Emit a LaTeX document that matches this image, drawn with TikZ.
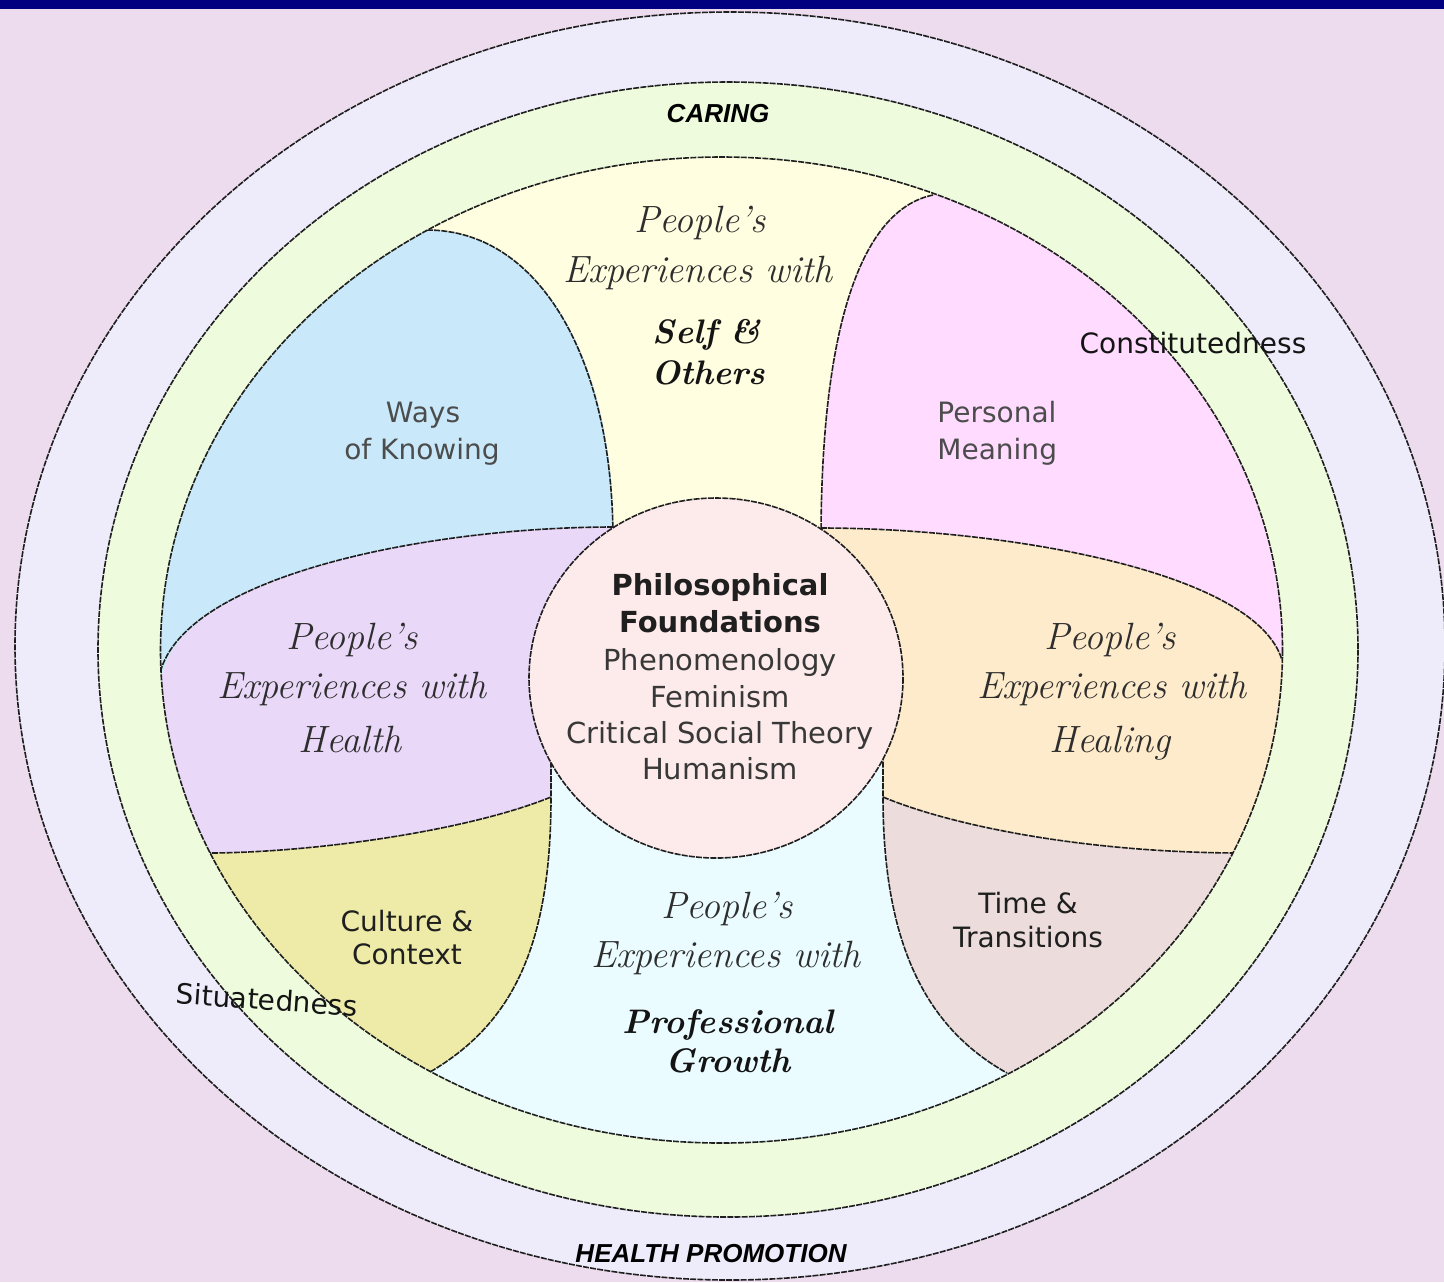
\documentclass[tikz,border=0pt]{standalone}
\usepackage{fontspec}
\newfontfamily\dvsans{DejaVu Sans}
\newfontfamily\libsans{Liberation Sans}
\definecolor{bgc}{HTML}{EDDCEE}
\definecolor{navyc}{HTML}{000080}
\definecolor{outerc}{HTML}{EEEBFB}
\definecolor{greenc}{HTML}{EEFBDD}
\definecolor{yelc}{HTML}{FFFEE0}
\definecolor{bluec}{HTML}{C9E9FB}
\definecolor{pinkc}{HTML}{FFDCFF}
\definecolor{lavc}{HTML}{EAD8F9}
\definecolor{orc}{HTML}{FDEBCB}
\definecolor{olc}{HTML}{EEEBA8}
\definecolor{timec}{HTML}{ECDCDC}
\definecolor{cyanc}{HTML}{EAFCFF}
\definecolor{circc}{HTML}{FDEBEB}
\begin{document}
\begin{tikzpicture}[x=0.5pt,y=-0.5pt,
  bd/.style={draw=black!88, line width=0.8pt, dash pattern=on 3pt off 0.6pt},
  lbl/.style={inner sep=0pt, text height=10pt, text depth=0pt, font=\dvsans\fontsize{14}{17}\selectfont},
  ctr/.style={inner sep=0pt, text height=10.5pt, text depth=0pt, font=\dvsans\fontsize{14.5}{17}\selectfont, text=black!78},
  ctrb/.style={ctr, font=\dvsans\bfseries\fontsize{14.5}{17}\selectfont, text=black!88},
  cal/.style={inner sep=0pt, text height=12.5pt, text depth=0pt, font=\itshape\fontsize{19}{22}\selectfont, text=black!82},
  calb/.style={cal, font=\bfseries\itshape\fontsize{17}{22}\selectfont, text=black!92},
  ring/.style={inner sep=0pt, text height=9pt, text depth=0pt, font=\libsans\bfseries\itshape\fontsize{13}{15}\selectfont}]
\fill[bgc] (0,0) rectangle (1444,1282);
\useasboundingbox (0,0) rectangle (1444,1282);
% rings
\path[fill=outerc, bd] (730,646) ellipse [x radius=715, y radius=634];
\path[fill=greenc, bd] (728,649.5) ellipse [x radius=630, y radius=567.5];
\path[fill=yelc] (721.5,650) ellipse [x radius=561, y radius=493];
\begin{scope}
\clip (721.5,650) ellipse [x radius=561, y radius=493];
% fills
\fill[cyanc] (551,740) -- (551,797) .. controls (551,950) and (510,1025) .. (430,1072) -- (430,1200) -- (1007,1200) -- (1007,1073) .. controls (930,1030) and (883,950) .. (883,797) -- (883,740) -- cycle;
\fill[bluec] (427,150) -- (427,230) .. controls (540,230) and (613,360) .. (613,527) .. controls (430,527) and (185,575) .. (163,673) -- (100,673) -- (100,150) -- cycle;
\fill[pinkc] (933,100) -- (933,195) .. controls (860,210) and (821,330) .. (821,528) .. controls (1000,528) and (1255,570) .. (1282,660) -- (1400,660) -- (1400,100) -- cycle;
\fill[lavc] (613,527) .. controls (430,527) and (185,575) .. (163,673) -- (100,673) -- (100,853) -- (212,853) .. controls (320,852) and (470,830) .. (551,797) -- (551,740) -- (716,678) -- cycle;
\fill[orc] (821,528) .. controls (1000,528) and (1255,570) .. (1282,660) -- (1400,660) -- (1400,853) -- (1230,853) .. controls (1080,852) and (950,825) .. (883,797) -- (883,740) -- (716,678) -- cycle;
\fill[olc] (212,853) .. controls (320,852) and (470,830) .. (551,797) .. controls (551,950) and (510,1025) .. (430,1072) -- (430,1200) -- (100,1200) -- (100,853) -- cycle;
\fill[timec] (883,797) .. controls (950,825) and (1080,852) .. (1230,853) -- (1400,853) -- (1400,1200) -- (1007,1200) -- (1007,1073) .. controls (930,1030) and (883,950) .. (883,797) -- cycle;
% boundaries
\draw[bd] (427,230) .. controls (540,230) and (613,360) .. (613,540);
\draw[bd] (613,527) .. controls (430,527) and (185,575) .. (160,673);
\draw[bd] (205,853) -- (212,853) .. controls (320,852) and (470,830) .. (551,797);
\draw[bd] (551,740) -- (551,797) .. controls (551,950) and (510,1025) .. (430,1072);
\draw[bd] (933,195) .. controls (860,210) and (821,330) .. (821,540);
\draw[bd] (821,528) .. controls (1000,528) and (1255,570) .. (1282,660);
\draw[bd] (883,797) .. controls (950,825) and (1080,852) .. (1236,853);
\draw[bd] (883,740) -- (883,797) .. controls (883,950) and (930,1030) .. (1007,1073);
\end{scope}
\path[bd] (721.5,650) ellipse [x radius=561, y radius=493];
% central circle
\path[fill=circc, bd] (716,678) ellipse [x radius=187, y radius=180];
% texts
\node[ctrb] (ph1) at (720,585) {Philosophical};
\node[ctrb] (ph2) at (720,622) {Foundations};
\node[ctr] (ph3) at (720,660) {Phenomenology};
\node[ctr] (ph4) at (720,697) {Feminism};
\node[ctr] (ph5) at (720,733) {Critical Social Theory};
\node[ctr] (ph6) at (720,769) {Humanism};

\node[cal] (t1) at (700,220) {People’s};
\node[cal] (t2) at (698,270) {Experiences with};
\node[calb] (t3) at (707,331) {Self \&};
\node[calb] (t4) at (708,372) {Others};

\node[cal] (l1) at (352,637) {People’s};
\node[cal] (l2) at (352,686) {Experiences with};
\node[cal] (l3) at (350,740) {Health};

\node[cal] (r1) at (1110,637) {People’s};
\node[cal] (r2) at (1112,686) {Experiences with};
\node[cal] (r3) at (1110,740) {Healing};

\node[cal] (b1) at (727,906) {People’s};
\node[cal] (b2) at (726,955) {Experiences with};
\node[calb] (b3) at (728,1021) {Professional};
\node[calb] (b4) at (728,1060) {Growth};

\node[lbl, text=black!70] (wk1) at (423,412) {Ways};
\node[lbl, text=black!70] (wk2) at (422,449) {of Knowing};
\node[lbl, text=black!70, anchor=west] (pm1) at (937,412) {Personal};
\node[lbl, text=black!70, anchor=west] (pm2) at (937,449) {Meaning};
\node[lbl, text=black!88] (cc1) at (407,921) {Culture \&};
\node[lbl, text=black!88] (cc2) at (407,954) {Context};
\node[lbl, text=black!88] (tt1) at (1028,903) {Time \&};
\node[lbl, text=black!88] (tt2) at (1028,937) {Transitions};
\node[lbl, text=black!92] (con) at (1193,343) {Constitutedness};
\node[lbl, text=black!92, rotate=-4] (sit) at (267,1000) {Situatedness};

\node[ring] (car) at (718,113) {CARING};
\node[ring] (hp) at (711,1253) {HEALTH PROMOTION};

\fill[navyc] (0,0) rectangle (1444,9);
\end{tikzpicture}
\end{document}
